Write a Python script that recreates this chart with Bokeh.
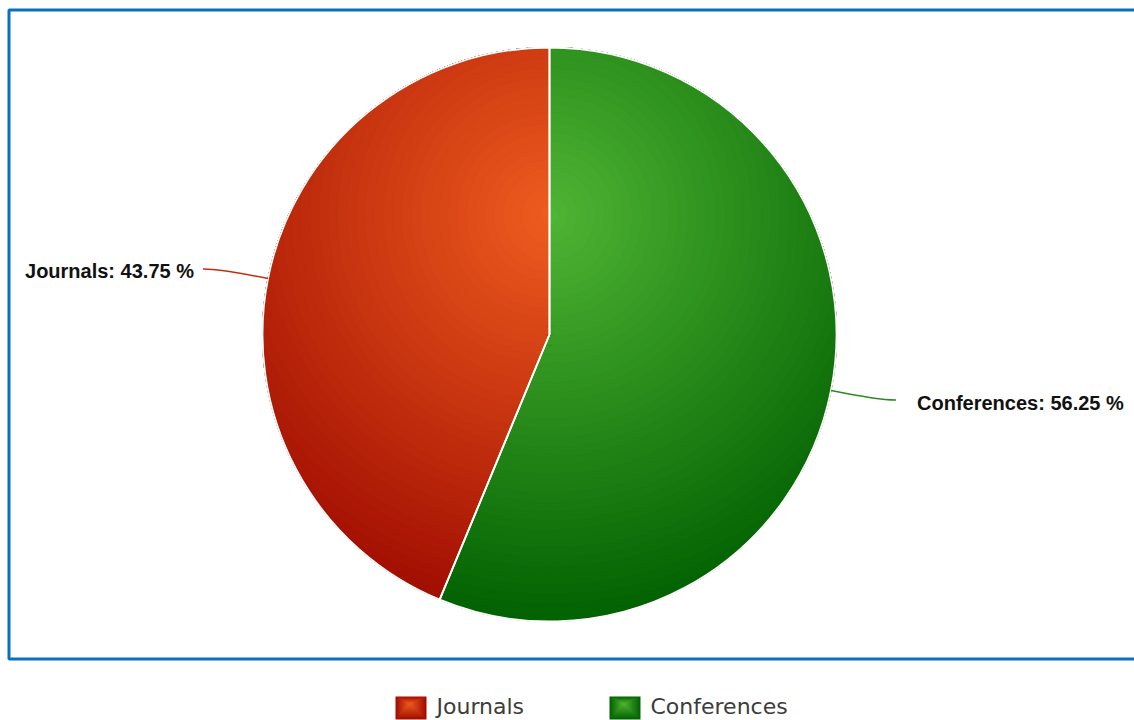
import numpy as np
from bokeh.plotting import figure
from bokeh.models import Range1d
from bokeh.core.properties import value
from bokeh.embed import file_html
from bokeh.resources import INLINE

# ---- data ----
categories = ["Journals", "Conferences"]
shares = [43.75, 56.25]
labels = [f"{c}: {s} %" for c, s in zip(categories, shares)]
light_colors = ["#ef5c1f", "#4fb534"]
dark_colors = ["#9e0b00", "#005f00"]
connector_colors = ["#c52d0c", "#2a8a20"]

W, H = 1134, 720
p = figure(width=W, height=H, x_range=Range1d(0, W), y_range=Range1d(0, H),
           output_backend="svg", toolbar_location=None, min_border=0,
           x_axis_type=None, y_axis_type=None)
p.grid.visible = False
p.outline_line_color = None
p.background_fill_color = "white"
p.border_fill_color = "white"

def Y(y):  # pixel-from-top to data
    return H - y

# blue frame (top, left, bottom; right side runs off the page)
p.line(x=[W + 10, 8.5, 8.5, W + 10], y=[Y(9.5), Y(9.5), Y(658.5), Y(658.5)],
       line_color="#0b6fc1", line_width=3)

cx, cy, R = 549.0, Y(334), 287.0
hx, hy, Rg = 549.0, Y(215), 415.0

fr = np.array(shares) / sum(shares)
ends = np.pi / 2 + np.cumsum(fr) * 2 * np.pi
starts = ends - fr * 2 * np.pi

def hexrgb(h):
    h = h.lstrip("#")
    return np.array([int(h[i:i + 2], 16) for i in (0, 2, 4)], dtype=float)

def lerp(c0, c1, t):
    c = hexrgb(c0) * (1 - t) + hexrgb(c1) * t
    return "#%02x%02x%02x" % tuple(int(round(v)) for v in c)

def layer(a0, a1, r):
    th = np.linspace(a0, a1, 240)
    ux, uy = np.cos(th), np.sin(th)
    dx, dy = cx - hx, cy - hy
    b = ux * dx + uy * dy
    disc = b * b - (dx * dx + dy * dy - r * r)
    ok = disc >= 0
    sq = np.sqrt(np.where(ok, disc, 0))
    t1 = np.maximum(-b - sq, 0)
    t2 = np.minimum(-b + sq, R)
    ok &= t2 > t1
    polys = []
    idx = np.where(ok)[0]
    if len(idx) == 0:
        return polys
    runs = np.split(idx, np.where(np.diff(idx) > 1)[0] + 1)
    for run in runs:
        fx = cx + t2[run] * ux[run]
        fy = cy + t2[run] * uy[run]
        nx = cx + t1[run] * ux[run]
        ny = cy + t1[run] * uy[run]
        polys.append((list(np.concatenate([fx, nx[::-1]])),
                      list(np.concatenate([fy, ny[::-1]]))))
    return polys

# base slices
p.wedge(x=cx, y=cy, radius=R, start_angle=starts, end_angle=ends,
        fill_color=dark_colors, line_color="white", line_width=1.5)

# radial-gradient shading layers
N = 45
xs, ys, cols = [], [], []
for i in range(len(categories)):
    for k in range(N, 0, -1):
        r = Rg * k / N
        col = lerp(light_colors[i], dark_colors[i], min(1.0, (k - 0.5) / N))
        for px, py in layer(starts[i], ends[i], r):
            xs.append(px); ys.append(py); cols.append(col)
p.patches(xs=xs, ys=ys, fill_color=cols, line_color=cols, line_width=0.6)

# slice outlines on top
p.wedge(x=cx, y=cy, radius=R, start_angle=starts, end_angle=ends,
        fill_alpha=0, line_color="white", line_width=1.8)

# connectors and data labels
mid = (starts + ends) / 2
for i in range(len(categories)):
    ux, uy = np.cos(mid[i]), np.sin(mid[i])
    ex, ey = cx + R * ux, cy + R * uy
    kx, ky = cx + (R + 50) * ux, cy + (R + 50) * uy
    side = 1 if ux >= 0 else -1
    endx, endy = kx + side * 16, ky - 0.1 * (ky - ey) * 0.25
    p.quadratic(x0=[ex], y0=[ey], x1=[endx], y1=[endy], cx=[kx], cy=[ky],
                line_color=connector_colors[i], line_width=1.5)
    gap = 21 if side > 0 else 9
    p.text(x=[endx + side * gap], y=[endy - 2.5], text=[labels[i]],
           text_font=value("Liberation Sans"), text_font_style="bold",
           text_font_size="20px", text_color="#111111",
           text_align="left" if side > 0 else "right", text_baseline="middle")

# legend
leg_x = [395.0, 609.0]
for i in range(len(categories)):
    x0, x1 = leg_x[i], leg_x[i] + 31
    top, bot = Y(696), Y(719)
    gx, gy = x0 + 14, Y(703)
    for k in range(12, 0, -1):
        t = k / 12
        p.quad(left=[gx - t * (gx - x0)], right=[gx + t * (x1 - gx)],
               top=[gy + t * (top - gy)], bottom=[gy - t * (gy - bot)],
               fill_color=lerp(light_colors[i], dark_colors[i], (k - 0.5) / 12),
               line_color=None)
    p.text(x=[x1 + 10], y=[Y(706)], text=[categories[i]],
           text_font=value("DejaVu Sans"), text_font_size="22px",
           text_color="#3c3c3c", text_align="left", text_baseline="middle")

open("out.html", "w").write(file_html(p, INLINE))
